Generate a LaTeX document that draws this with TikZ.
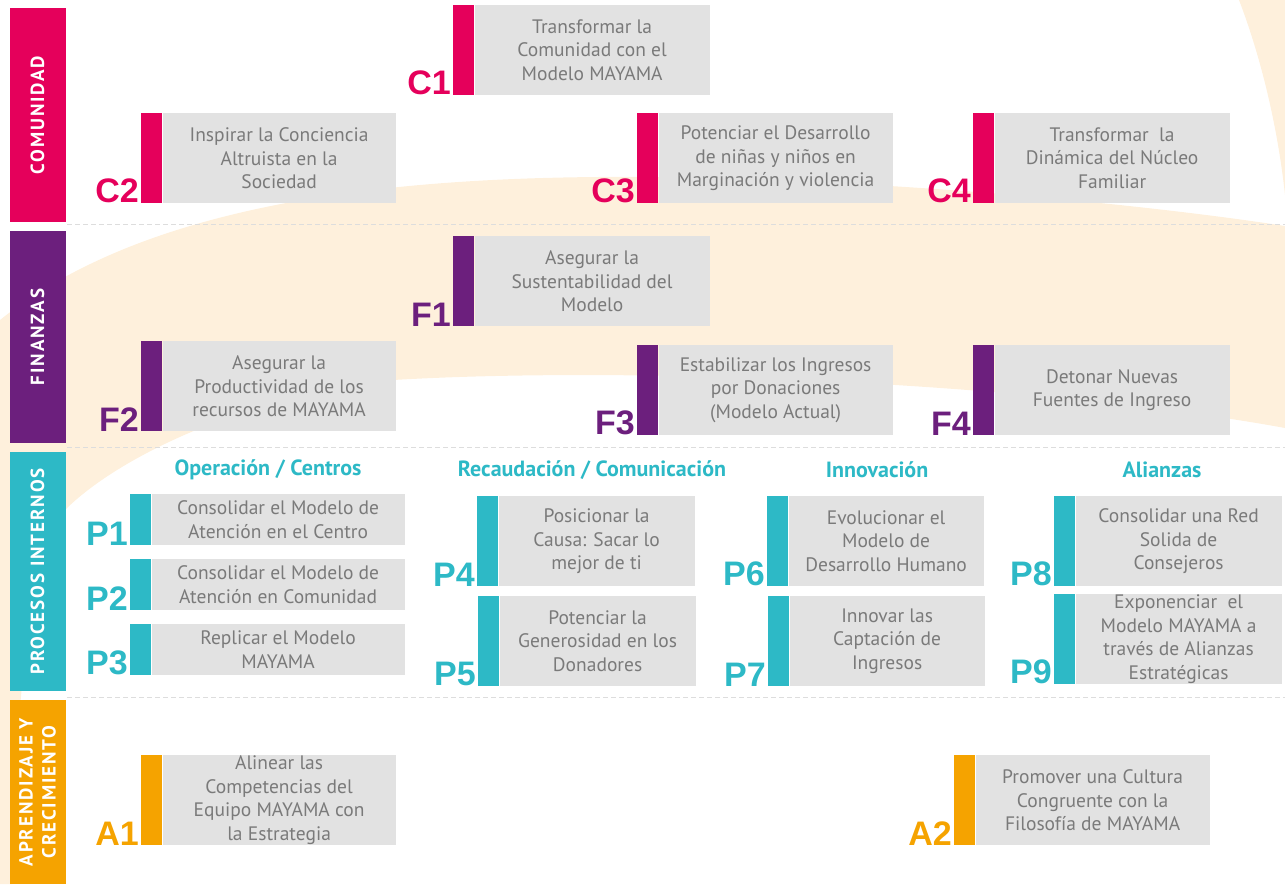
\documentclass[tikz,border=0pt]{standalone}
\usepackage{fontspec}
\setmainfont{PT Sans}
\newfontfamily\tagfont{Liberation Sans}
\newfontfamily\sidefont[LetterSpace=10]{PT Sans}
\usepackage{tikz}

\definecolor{comun}{HTML}{E5005B}
\definecolor{finan}{HTML}{6C1F7D}
\definecolor{proc}{HTML}{2DB9C6}
\definecolor{aprend}{HTML}{F5A300}
\definecolor{boxgray}{HTML}{E2E2E2}
\definecolor{textgray}{HTML}{7A7A7A}
\definecolor{cream}{HTML}{FEF0DC}
\definecolor{dashgray}{HTML}{DDDDDD}

\begin{document}
\begin{tikzpicture}
    [ x=1pt, y=-1pt, font=\fontsize{19.5}{23.5}\selectfont,
      goal/.style={fill=boxgray, text=textgray, inner sep=0pt, align=center,
                   anchor=north west},
      stripe/.style={inner sep=0pt, minimum width=21, anchor=north west},
      tag/.style={font=\tagfont\bfseries\fontsize{34}{34}\selectfont,
                  inner xsep=2pt, inner ysep=0pt, anchor=south east},
      side/.style={rotate=90, text=white, inner sep=0pt, minimum height=56,
                   align=center, font=\sidefont\bfseries\fontsize{19}{23}\selectfont},
      head/.style={text=proc, font=\bfseries\fontsize{22}{26}\selectfont},
      sep/.style={dashgray, line width=1pt, dash pattern=on 5pt off 3pt},
    ]
    \useasboundingbox (0,0) rectangle (1285,884);

    % cream swoosh in the background
    \fill[cream] (0,320) .. controls (150,200) and (400,175) .. (650,177)
        .. controls (900,180) and (1150,205) .. (1285,226) -- (1285,428)
        .. controls (1050,385) and (650,365) .. (393,380)
        .. controls (250,395) and (120,455) .. (65,510)
        .. controls (30,560) and (15,700) .. (12,884) -- (0,884) -- cycle;
    \fill[cream] (1239,0) .. controls (1262,60) and (1278,130) .. (1285,195)
        -- (1285,0) -- cycle;

    \draw[sep] (67,224) -- (1285,224);
    \draw[sep] (67,447) -- (1285,447);
    \draw[sep] (67,697) -- (1285,697);

    % perspectives
    \node[side, fill=comun, minimum width=214] (comunidad) at (37.5,115) {COMUNIDAD};
    \node[side, fill=finan, minimum width=212] (finanzas) at (37.5,337) {FINANZAS};
    \node[side, fill=proc, minimum width=239] (procesos) at (37.5,571.5)
        {PROCESOS INTERNOS};
    \node[side, fill=aprend, minimum width=184] (aprendizaje) at (37.5,792)
        {APRENDIZAJE Y\\CRECIMIENTO};

    \node[head] (operacion) at (268,470) {Operación / Centros};
    \node[head] (recaudacion) at (592,470) {Recaudación / Comunicación};
    \node[head] (innovacion) at (877,470) {Innovación};
    \node[head] (alianzas) at (1162,470) {Alianzas};

    \foreach \n / \col / \x / \y / \w / \h / \txt in {
        C1/comun/453/5/235/90/{Transformar la\\Comunidad con el\\Modelo MAYAMA},
        C2/comun/141/113/233/90/{Inspirar la Conciencia\\Altruista en la\\Sociedad},
        C3/comun/637/113/234/90/{Potenciar el Desarrollo\\de niñas y niños en\\Marginación y violencia},
        C4/comun/973/113/235/90/{Transformar\ \ la\\Dinámica del Núcleo\\Familiar},
        F1/finan/453/236/235/90/{Asegurar la\\Sustentabilidad del\\Modelo},
        F2/finan/141/341/233/90/{Asegurar la\\Productividad de los\\recursos de MAYAMA},
        F3/finan/637/345/234/90/{Estabilizar los Ingresos\\por Donaciones\\(Modelo Actual)},
        F4/finan/973/345/235/90/{Detonar Nuevas\\Fuentes de Ingreso},
        P1/proc/130/494/253/51/{Consolidar el Modelo de\\Atención en el Centro},
        P2/proc/130/559/253/51/{Consolidar el Modelo de\\Atención en Comunidad},
        P3/proc/130/624/253/51/{Replicar el Modelo\\MAYAMA},
        P4/proc/477/496/196/90/{Posicionar la\\Causa: Sacar lo\\mejor de ti},
        P5/proc/478/596/196/90/{Potenciar la\\Generosidad en los\\Donadores},
        P6/proc/767/496/195/90/{Evolucionar el\\Modelo de\\Desarrollo Humano},
        P7/proc/768/596/195/90/{Innovar las\\Captación de\\Ingresos},
        P8/proc/1054/496/206/90/{Consolidar una Red\\Solida de\\Consejeros},
        P9/proc/1054/594/206/90/{Exponenciar\ \ el\\Modelo MAYAMA a\\través de Alianzas\\Estratégicas},
        A1/aprend/141/755/233/90/{Alinear las\\Competencias del\\Equipo MAYAMA con\\la Estrategia},
        A2/aprend/954/755/234/90/{Promover una Cultura\\Congruente con la\\Filosofía de MAYAMA}} {
        \node[stripe, fill=\col, minimum height=\h] (\n-bar) at (\x,\y) {};
        \node[goal, minimum width=\w, minimum height=\h] (\n) at (\n-bar.north east) {\txt};
        \node[tag, text=\col] (\n-tag) at (\n-bar.south west) {\n};
    }
\end{tikzpicture}
\end{document}
